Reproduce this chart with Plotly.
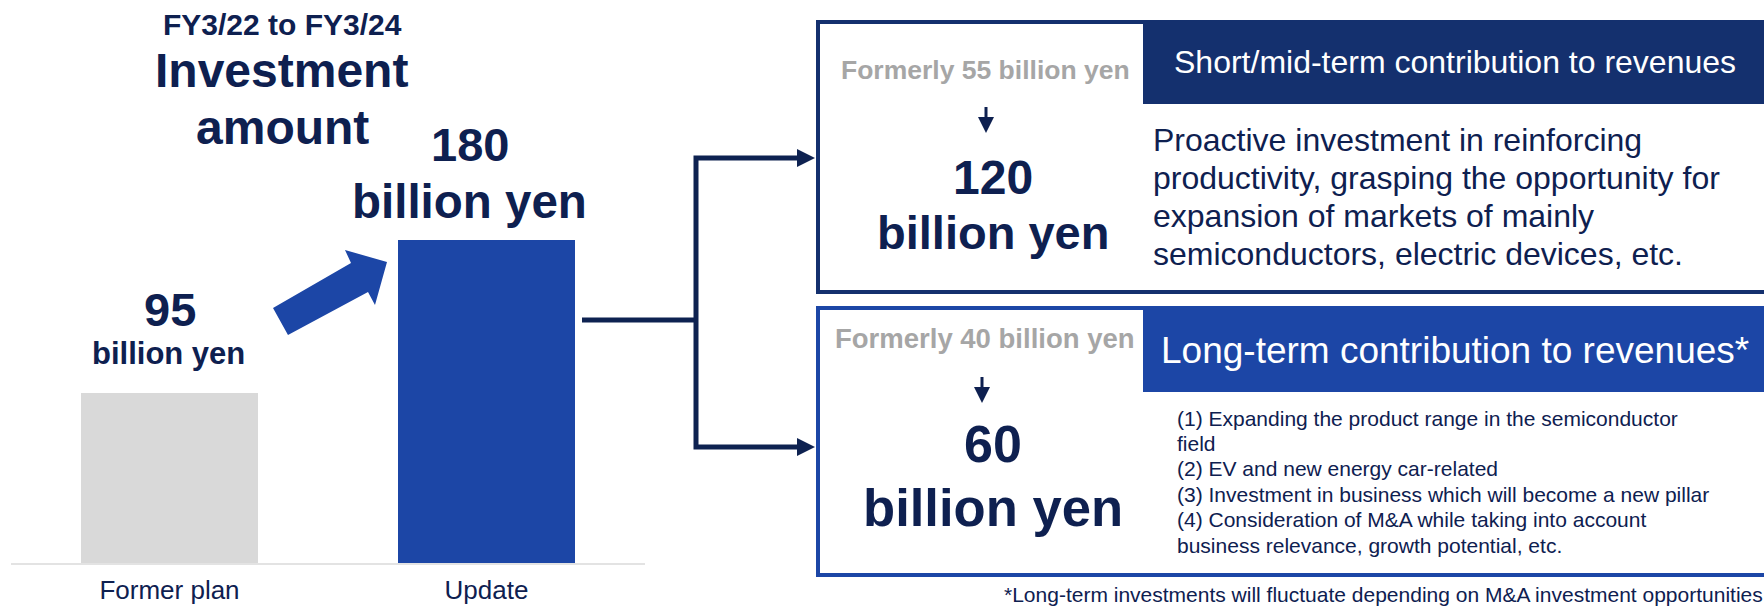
import plotly.graph_objects as go

W, H = 1764, 607

# ---------------- data ----------------
categories = ["Former plan", "Update"]
investment = [95, 180]            # billion yen
bar_colors = ["#D9D9D9", "#1C46A6"]
value_labels = ["95", "180"]

title_lines = ["FY3/22 to FY3/24", "Investment", "amount"]
unit = "billion yen"

short_former = "Formerly 55 billion yen"
short_value = "120"
long_former = "Formerly 40 billion yen"
long_value = "60"

short_header = "Short/mid-term contribution to revenues"
long_header = "Long-term contribution to revenues*"
short_body = [
    "Proactive investment in reinforcing",
    "productivity, grasping the opportunity for",
    "expansion of markets of mainly",
    "semiconductors, electric devices, etc.",
]
long_body = [
    "(1) Expanding the product range in the semiconductor",
    "field",
    "(2) EV and new energy car-related",
    "(3) Investment in business which will become a new pillar",
    "(4) Consideration of M&A while taking into account",
    "business relevance, growth potential, etc.",
]
footnote = "*Long-term investments will fluctuate depending on M&A investment opportunities"

# ---------------- styles ----------------
FONT = "Liberation Sans, Arial, sans-serif"
NAVY_TXT = "#0E2050"
NAVY = "#14306E"
BLUE = "#1C46A6"
GRAY_TXT = "#A6A6A6"


def px(x):
    return x / W


def py(y):
    return 1 - y / H


def path(points, close=True):
    s = "M " + " L ".join(f"{px(x):.6f},{py(y):.6f}" for x, y in points)
    return s + (" Z" if close else "")


annotations = []


def ann(text, x, yc, size, color=NAVY_TXT, bold=False, xanchor="center"):
    t = f"<b>{text}</b>" if bold else text
    annotations.append(dict(
        text=t, x=px(x), y=py(yc), xref="paper", yref="paper",
        xanchor=xanchor, yanchor="middle", showarrow=False,
        font=dict(family=FONT, size=size, color=color), borderpad=0,
    ))


# ---------------- bar chart ----------------
fig = go.Figure()
fig.add_trace(go.Bar(
    x=categories, y=investment, marker=dict(color=bar_colors, line=dict(width=0)),
    width=0.558, hoverinfo="skip",
))

# value labels tied to the bars
val_cfg = [
    # (text, size, yshift, xshift)
    [(value_labels[0], 47, 83, 0), (unit, 31, 39, -1)],
    [(value_labels[1], 47, 96, -17), (unit, 47.5, 39, -17)],
]
for i, items in enumerate(val_cfg):
    for text, size, ys, xs in items:
        annotations.append(dict(
            text=f"<b>{text}</b>", x=categories[i], y=investment[i], xref="x", yref="y",
            xanchor="center", yanchor="middle", yshift=ys, xshift=xs, showarrow=False,
            font=dict(family=FONT, size=size, color=NAVY_TXT), borderpad=0,
        ))

# title
ann(title_lines[0], 282, 24.5, 30, bold=True)
ann(title_lines[1], 281, 70, 48, bold=True)
ann(title_lines[2], 282, 128, 48, bold=True)

shapes = []

# blue arrow between bars
shapes.append(dict(type="path", xref="paper", yref="paper",
                   path=path([(273, 308), (351, 263), (345, 250), (387, 262),
                              (375, 305), (368, 292), (288, 335)]),
                   fillcolor=BLUE, line=dict(width=0)))

# connector bracket
LINE_C = "#0E2251"
shapes.append(dict(type="path", xref="paper", yref="paper",
                   path=path([(582, 320), (696, 320)], close=False),
                   line=dict(color=LINE_C, width=5)))
shapes.append(dict(type="path", xref="paper", yref="paper",
                   path=path([(800, 158), (696, 158), (696, 447), (800, 447)], close=False),
                   line=dict(color=LINE_C, width=5)))
for yy in (158, 447):
    shapes.append(dict(type="path", xref="paper", yref="paper",
                       path=path([(797, yy - 9), (815, yy), (797, yy + 9)]),
                       fillcolor=LINE_C, line=dict(width=0)))

# boxes
shapes.append(dict(type="path", xref="paper", yref="paper",
                   path=path([(1780, 22), (818, 22), (818, 292), (1780, 292)], close=False),
                   line=dict(color=NAVY, width=4)))
shapes.append(dict(type="rect", xref="paper", yref="paper",
                   x0=px(1143), x1=px(1780), y0=py(104), y1=py(20),
                   fillcolor=NAVY, line=dict(width=0)))
shapes.append(dict(type="path", xref="paper", yref="paper",
                   path=path([(1780, 308), (818, 308), (818, 575), (1780, 575)], close=False),
                   line=dict(color=BLUE, width=4)))
shapes.append(dict(type="rect", xref="paper", yref="paper",
                   x0=px(1143), x1=px(1780), y0=py(392), y1=py(306),
                   fillcolor=BLUE, line=dict(width=0)))

# small down arrows
for xc, y0 in ((986, 107), (982, 377)):
    shapes.append(dict(type="path", xref="paper", yref="paper",
                       path=path([(xc, y0), (xc, y0 + 13)], close=False),
                       line=dict(color=NAVY_TXT, width=3)))
    shapes.append(dict(type="path", xref="paper", yref="paper",
                       path=path([(xc - 8, y0 + 10), (xc + 8, y0 + 10), (xc, y0 + 26)]),
                       fillcolor=NAVY_TXT, line=dict(width=0)))

# box texts
ann(short_former, 985, 70, 26.5, color=GRAY_TXT, bold=True)
ann(short_value, 993, 177, 48, bold=True)
ann(unit, 993, 232, 47, bold=True)
ann(long_former, 985, 338.5, 27.5, color=GRAY_TXT, bold=True)
ann(long_value, 993, 444, 52, bold=True)
ann(unit, 993, 507, 52.6, bold=True)

ann(short_header, 1455, 62, 32, color="white")
ann(long_header, 1455, 350, 37, color="white")

for i, line in enumerate(short_body):
    base = 151 + 38 * i
    ann(line, 1152, base - 0.3465 * 32, 32, xanchor="left")

long_bases = [426, 451, 476, 502, 527, 553]
for line, base in zip(long_body, long_bases):
    ann(line, 1176, base - 0.3465 * 21, 21, xanchor="left")

annotations.append(dict(
    text=footnote, x=1, y=py(601.5 - 0.3465 * 21), xref="paper", yref="paper",
    xanchor="right", yanchor="middle", showarrow=False, borderpad=0,
    font=dict(family=FONT, size=21, color=NAVY_TXT),
))

fig.update_layout(
    width=W, height=H, margin=dict(l=0, r=0, t=0, b=0, autoexpand=False),
    paper_bgcolor="white", plot_bgcolor="white", showlegend=False,
    xaxis=dict(domain=[px(11), px(645)], range=[-0.5, 1.5], type="category",
               showline=True, linecolor="#E3E3E3", linewidth=2, showgrid=False,
               zeroline=False, ticks="", ticklabelstandoff=3, automargin=False,
               tickfont=dict(family=FONT, size=26, color=NAVY_TXT)),
    yaxis=dict(domain=[py(563), 1], range=[0, 563 / 1.794], visible=False,
               automargin=False),
    shapes=shapes, annotations=annotations, bargap=0,
)

fig.write_html(
    "out.html",
    config={"displayModeBar": False},
    post_script="document.body.style.margin='0px';document.body.style.overflow='hidden';",
)
